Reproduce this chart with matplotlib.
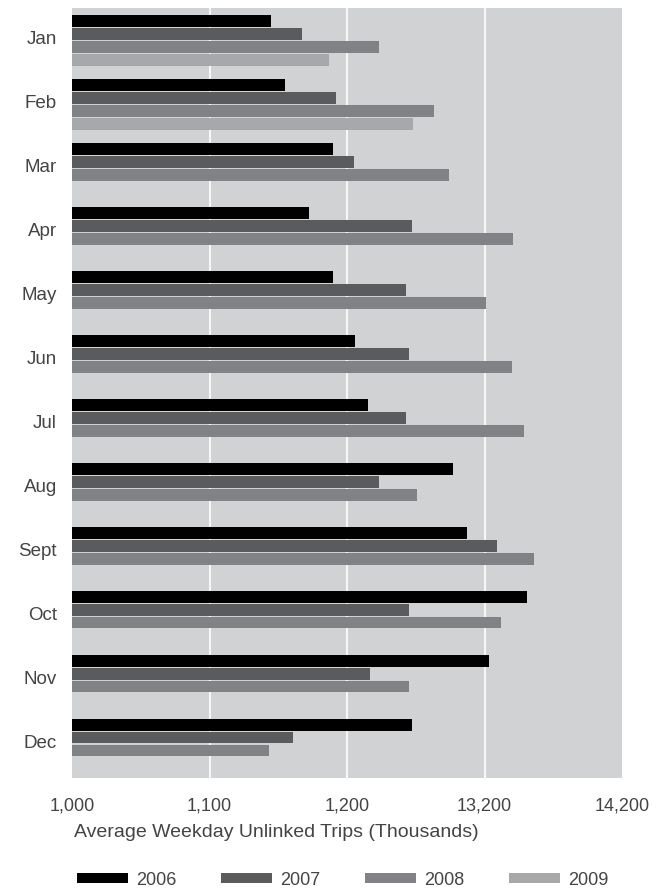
import numpy as np
import matplotlib
matplotlib.use("Agg")
import matplotlib.pyplot as plt
from matplotlib.patches import Patch

plt.rcParams['font.family'] = ['Liberation Sans', 'DejaVu Sans']

months = ["Jan", "Feb", "Mar", "Apr", "May", "Jun",
          "Jul", "Aug", "Sept", "Oct", "Nov", "Dec"]
years = ["2006", "2007", "2008", "2009"]

# average weekday unlinked trips (thousands)
trips_2006 = [1145, 1155, 1190, 1172, 1190, 1206, 1215, 1277, 1287, 1331, 1303, 1247]
trips_2007 = [1167, 1192, 1205, 1247, 1243, 1245, 1243, 1223, 1309, 1245, 1217, 1161]
trips_2008 = [1223, 1263, 1274, 1321, 1301, 1320, 1329, 1251, 1336, 1312, 1245, 1143]
trips_2009 = [1187, 1248]  # only Jan and Feb

series = [trips_2006, trips_2007, trips_2008, trips_2009]
colors = ["#000000", "#5a5b5d", "#818285", "#a7a8aa"]

xticks = [1000, 1100, 1200, 1300, 1400]
xtick_labels = ["1,000", "1,100", "1,200", "13,200", "14,200"]

base = 1000
slot = 0.203
bar_h = 0.18
text_color = "#444444"
fs = 13

fig = plt.figure(figsize=(6.63, 8.9), dpi=100)
ax = fig.add_axes([0.1086, 0.126, 0.8296, 0.865])
ax.set_facecolor("#d1d2d4")

for k, vals in enumerate(series):
    y = np.arange(len(vals)) + k * slot
    ax.barh(y, np.array(vals) - base, left=base, height=bar_h,
            color=colors[k], zorder=3)

ax.set_xlim(1000, 1400)
ax.set_ylim(11.83, -0.2)

ax.set_xticks(xticks)
ax.set_xticklabels(xtick_labels, fontsize=fs, color=text_color)
ax.set_yticks(np.arange(len(months)) + 1.3 * slot)
ax.set_yticklabels(months, fontsize=13.5, color=text_color)
ax.tick_params(axis="x", length=0, pad=14)
ax.tick_params(axis="y", length=0, pad=11)

for x in xticks[1:-1]:
    ax.axvline(x, color="white", linewidth=1.2, zorder=1)

for s in ax.spines.values():
    s.set_visible(False)

fig.text(0.111, 0.065, "Average Weekday Unlinked Trips (Thousands)",
         fontsize=14, color=text_color, ha="left", va="center")

handles = [Patch(facecolor=c, edgecolor="none") for c in colors]
fig.legend(handles, years, loc="center", bbox_to_anchor=(0.517, 0.011),
           ncol=4, frameon=False, handlelength=2.8, handleheight=0.5,
           columnspacing=2.5, handletextpad=0.45,
           prop={"size": fs}, labelcolor=text_color)

fig.savefig("out.png", dpi=100)
